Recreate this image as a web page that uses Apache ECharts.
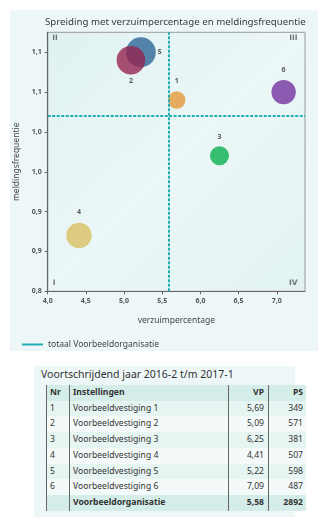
<!DOCTYPE html>
<html>
<head>
<meta charset="utf-8">
<script src="https://cdn.jsdelivr.net/npm/echarts@6/dist/echarts.min.js"></script>
<style>
  html, body { margin: 0; padding: 0; background: #ffffff; }
  body { width: 332px; height: 524px; position: relative; overflow: hidden; font-family: "Noto Sans", sans-serif; }
  #panel { position: absolute; left: 10px; top: 10px; width: 308px; height: 341px; background: #eef7f7; }
  #chart { position: absolute; left: 0; top: 0; width: 332px; height: 355px; }
  #tablebox { position: absolute; left: 34px; top: 366px; width: 261px; height: 151px; background: #eef7f7; }
  #tabletitle { position: absolute; left: 41px; top: 367px; font-size: 10.5px; color: #333; white-space: nowrap; }
  #tbl { position: absolute; left: 46px; top: 385px; width: 243px; border-collapse: collapse; table-layout: fixed; font-size: 8.6px; color: #333; }
  #tbl td, #tbl th { height: 15.7px; padding: 0; line-height: 15.7px; white-space: nowrap; border-left: 1.5px solid #666; }
  #tbl th { font-weight: bold; }
  #tbl .c0 { width: 19px; text-align: left; padding-left: 3px; }
  #tbl .c1 { width: 155px; text-align: left; padding-left: 3px; }
  #tbl .c2 { width: 35px; text-align: right; padding-right: 4px; }
  #tbl .c3 { width: 34px; text-align: right; padding-right: 3px; border-right: none; }
  #tbl tr.head, #tbl tr.total { background: #d4ede9; }
  #tbl tr.odd { background: #e6f4f2; }
  #tbl tr.even { background: #f3faf9; }
  #tbl tr.total td { font-weight: bold; }
</style>
</head>
<body>
<div id="panel"></div>
<div id="chart"></div>
<div id="tablebox"></div>
<div id="tabletitle">Voortschrijdend jaar 2016-2 t/m 2017-1</div>
<table id="tbl"></table>
<script>
// Establishments: number, name, absence percentage (VP), staff size (PS), reporting frequency
const nrs = [1, 2, 3, 4, 5, 6];
const names = ['Voorbeeldvestiging 1', 'Voorbeeldvestiging 2', 'Voorbeeldvestiging 3',
               'Voorbeeldvestiging 4', 'Voorbeeldvestiging 5', 'Voorbeeldvestiging 6'];
const vp = [5.69, 5.09, 6.25, 4.41, 5.22, 7.09];
const ps = [349, 571, 381, 507, 598, 487];
const freq = [1.04, 1.09, 0.97, 0.87, 1.10, 1.05];

// Organisation total
const totalName = 'Voorbeeldorganisatie';
const totalVp = 5.58;
const totalPs = 2892;
const totalFreq = 1.02;

// Axis ranges and ticks
const xMin = 4.0, xMax = 7.37;
const yMin = 0.8, yMax = 1.125;
const xTicks = [4.0, 4.5, 5.0, 5.5, 6.0, 6.5, 7.0];
const xTickLabels = ['4,0', '4,5', '5,0', '5,5', '6,0', '6,5', '7,0'];
const yTicks = [0.80, 0.85, 0.90, 0.95, 1.00, 1.05, 1.10];
const yTickLabels = ['0,8', '0,9', '0,9', '1,0', '1,0', '1,1', '1,1'];

// Quadrant names (bottom-left, top-left, top-right, bottom-right)
const quadrants = ['I', 'II', 'III', 'IV'];

// Styling per establishment
const colors = ['#e3983a', '#962451', '#0bb04f', '#d9c062', '#2e6696', '#7433a0'];
const labelPlacement = ['top', 'bottom', 'top', 'top', 'right', 'top'];
const labelGap = [7, 3, 6, 7, 2, 6];
const drawOrder = [1, 5, 2, 3, 4, 6];

const FONT = '"Noto Sans", sans-serif';
const TEAL = '#22afb1';

function fmtNum(v) { return v.toFixed(2).replace('.', ','); }
function labelFor(ticks, labels, v) {
  for (let i = 0; i < ticks.length; i++) if (Math.abs(ticks[i] - v) < 1e-6) return labels[i];
  return '';
}

const bubbleData = drawOrder.map(function (nr) {
  const i = nrs.indexOf(nr);
  return {
    value: [vp[i], freq[i], ps[i], nrs[i]],
    itemStyle: { color: colors[i] },
    label: { position: labelPlacement[i], distance: labelGap[i] }
  };
});

// Quadrant names sit in the corners of the plot area
function corner(name, x, y, pos, align, vAlign) {
  return {
    value: [x, y],
    label: { formatter: name, position: pos, align: align, verticalAlign: vAlign }
  };
}
const quadrantData = [
  corner(quadrants[0], xMin, yMin, [5.5, -3.5], 'left', 'bottom'),
  corner(quadrants[1], xMin, yMax, [5, 2], 'left', 'top'),
  corner(quadrants[2], xMax, yMax, [-7, 2], 'right', 'top'),
  corner(quadrants[3], xMax, yMin, [-7, -3.5], 'right', 'bottom')
];

const chart = echarts.init(document.getElementById('chart'), null, { renderer: 'canvas' });
chart.setOption({
  backgroundColor: 'transparent',
  animation: false,
  textStyle: { fontFamily: FONT },
  title: {
    text: 'Spreiding met verzuimpercentage en meldingsfrequentie',
    left: 40, top: 12,
    textStyle: { fontFamily: FONT, fontSize: 9.7, fontWeight: 'normal', color: '#3a3a3a' }
  },
  legend: {
    left: 17, top: 335,
    icon: 'rect', itemWidth: 21, itemHeight: 2, itemGap: 10,
    textStyle: { fontFamily: FONT, fontSize: 8.5, color: '#444' },
    data: ['totaal ' + totalName]
  },
  grid: {
    left: 47.7, right: 27, top: 32.3, bottom: 63.7,
    show: true, borderColor: '#9a9a9a', borderWidth: 1,
    backgroundColor: {
      type: 'linear', x: 0, y: 0, x2: 1, y2: 1,
      colorStops: [{ offset: 0, color: '#e0f1f1' }, { offset: 0.5, color: '#ecf7f7' }, { offset: 1, color: '#e2f2f2' }]
    }
  },
  xAxis: {
    type: 'value', min: xMin, max: xMax,
    name: 'verzuimpercentage', nameLocation: 'middle', nameGap: 25,
    nameTextStyle: { fontFamily: FONT, fontSize: 8.5, color: '#444' },
    axisLine: { show: true, lineStyle: { color: '#666', width: 1.2 } },
    axisTick: { show: true, length: 3, lineStyle: { color: '#666' }, customValues: xTicks },
    axisLabel: {
      customValues: xTicks, margin: 6, fontSize: 7, color: '#555', fontWeight: 'bold', fontFamily: FONT,
      formatter: function (v) { return labelFor(xTicks, xTickLabels, v); }
    },
    splitLine: { show: false }
  },
  yAxis: {
    type: 'value', min: yMin, max: yMax,
    name: 'meldingsfrequentie', nameLocation: 'middle', nameGap: 27,
    nameTextStyle: { fontFamily: FONT, fontSize: 8.5, color: '#444' },
    axisLine: { show: true, lineStyle: { color: '#666', width: 1.2 } },
    axisTick: { show: true, length: 3, lineStyle: { color: '#666' }, customValues: yTicks },
    axisLabel: {
      customValues: yTicks, margin: 6, fontSize: 7, color: '#555', fontWeight: 'bold', fontFamily: FONT,
      formatter: function (v) { return labelFor(yTicks, yTickLabels, v); }
    },
    splitLine: { show: false }
  },
  series: [
    {
      name: 'totaal ' + totalName,
      type: 'line',
      data: [],
      color: TEAL,
      lineStyle: { color: TEAL, width: 2 },
      markLine: {
        silent: true, symbol: 'none',
        label: { show: false },
        lineStyle: { color: TEAL, width: 2, type: [3, 1.5] },
        data: [{ xAxis: totalVp }, { yAxis: totalFreq }]
      }
    },
    {
      name: 'kwadranten',
      type: 'scatter',
      data: quadrantData,
      symbol: 'rect', symbolSize: 1,
      itemStyle: { color: 'rgba(0,0,0,0)' },
      label: { show: true, fontSize: 7.5, fontWeight: 'bold', color: '#555', fontFamily: '"DejaVu Sans", sans-serif' },
      silent: true,
      emphasis: { disabled: true }
    },
    {
      name: 'vestigingen',
      type: 'scatter',
      data: bubbleData,
      symbolSize: function (val) { return val[2] / 20; },
      label: {
        show: true, fontSize: 7, fontWeight: 'bold', color: '#333', fontFamily: FONT,
        formatter: function (p) { return String(p.value[3]); }
      },
      emphasis: { disabled: true }
    }
  ]
});

// Table of establishments
const tbl = document.getElementById('tbl');
let html = '<tr class="head"><th class="c0">Nr</th><th class="c1">Instellingen</th><th class="c2">VP</th><th class="c3">PS</th></tr>';
for (let i = 0; i < nrs.length; i++) {
  html += '<tr class="' + (i % 2 === 0 ? 'odd' : 'even') + '"><td class="c0">' + nrs[i] + '</td><td class="c1">' + names[i] +
          '</td><td class="c2">' + fmtNum(vp[i]) + '</td><td class="c3">' + ps[i] + '</td></tr>';
}
html += '<tr class="total"><td class="c0"></td><td class="c1">' + totalName + '</td><td class="c2">' + fmtNum(totalVp) +
        '</td><td class="c3">' + totalPs + '</td></tr>';
tbl.innerHTML = html;
</script>
</body>
</html>
